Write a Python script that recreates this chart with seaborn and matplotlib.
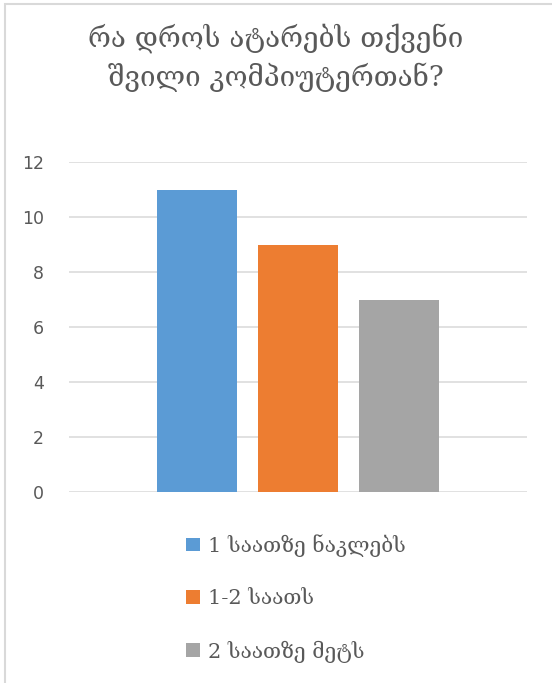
import matplotlib
matplotlib.use("Agg")
import matplotlib.pyplot as plt
import seaborn as sns
import pandas as pd
from matplotlib.patches import Rectangle

title = "რა დროს ატარებს თქვენი\nშვილი კომპიუტერთან?"
series = ["1 საათზე ნაკლებს", "1-2 საათს", "2 საათზე მეტს"]
values = [11, 9, 7]
colors = ["#5B9BD5", "#ED7D31", "#A5A5A5"]
yticks = [0, 2, 4, 6, 8, 10, 12]

sns.set_theme(style="white")
plt.rcParams["font.family"] = ["DejaVu Serif", "DejaVu Sans"]

df = pd.DataFrame({"group": [""] * len(series), "series": series, "value": values})

fig = plt.figure(figsize=(5.52, 6.83), dpi=100)
fig.patch.set_facecolor("white")
ax = fig.add_axes([69 / 552, 1 - 492 / 683, 458 / 552, 330 / 683])

sns.barplot(data=df, x="group", y="value", hue="series", hue_order=series,
            palette=colors, width=0.662, gap=0.21, saturation=1,
            ax=ax, legend=True)

ax.set_xlim(-0.5, 0.5)
ax.set_ylim(0, 12)
ax.set_yticks(yticks)
ax.set_yticklabels([str(t) for t in yticks], family="DejaVu Sans",
                   fontsize=12.5, color="#595959")
ax.set_xticks([])
ax.set_xlabel("")
ax.set_ylabel("")
ax.tick_params(axis="y", length=0, pad=18)
for s in ax.spines.values():
    s.set_visible(False)
ax.grid(axis="y", color="#D9D9D9", linewidth=1.1)
ax.set_axisbelow(True)
for p in ax.patches:
    p.set_edgecolor("none")

handles, labels = ax.get_legend_handles_labels()
ax.legend(handles, labels, loc="upper left",
          bbox_to_anchor=(186 / 552, 1 - 534 / 683), bbox_transform=fig.transFigure,
          frameon=False, fontsize=15, labelcolor="#595959",
          handlelength=0.65, handleheight=0.65, handletextpad=0.4,
          labelspacing=1.55, borderpad=0, borderaxespad=0)

fig.text(0.5, 1 - 58 / 683, title, ha="center", va="center",
         fontsize=20, color="#595959", linespacing=1.4)

fig.patches.append(Rectangle((4.5 / 552, -0.1), 1.2, 1 - 4.5 / 683 + 0.1,
                             transform=fig.transFigure, fill=False,
                             edgecolor="#D9D9D9", linewidth=1.5))

fig.savefig("out.png", dpi=100, facecolor="white")
